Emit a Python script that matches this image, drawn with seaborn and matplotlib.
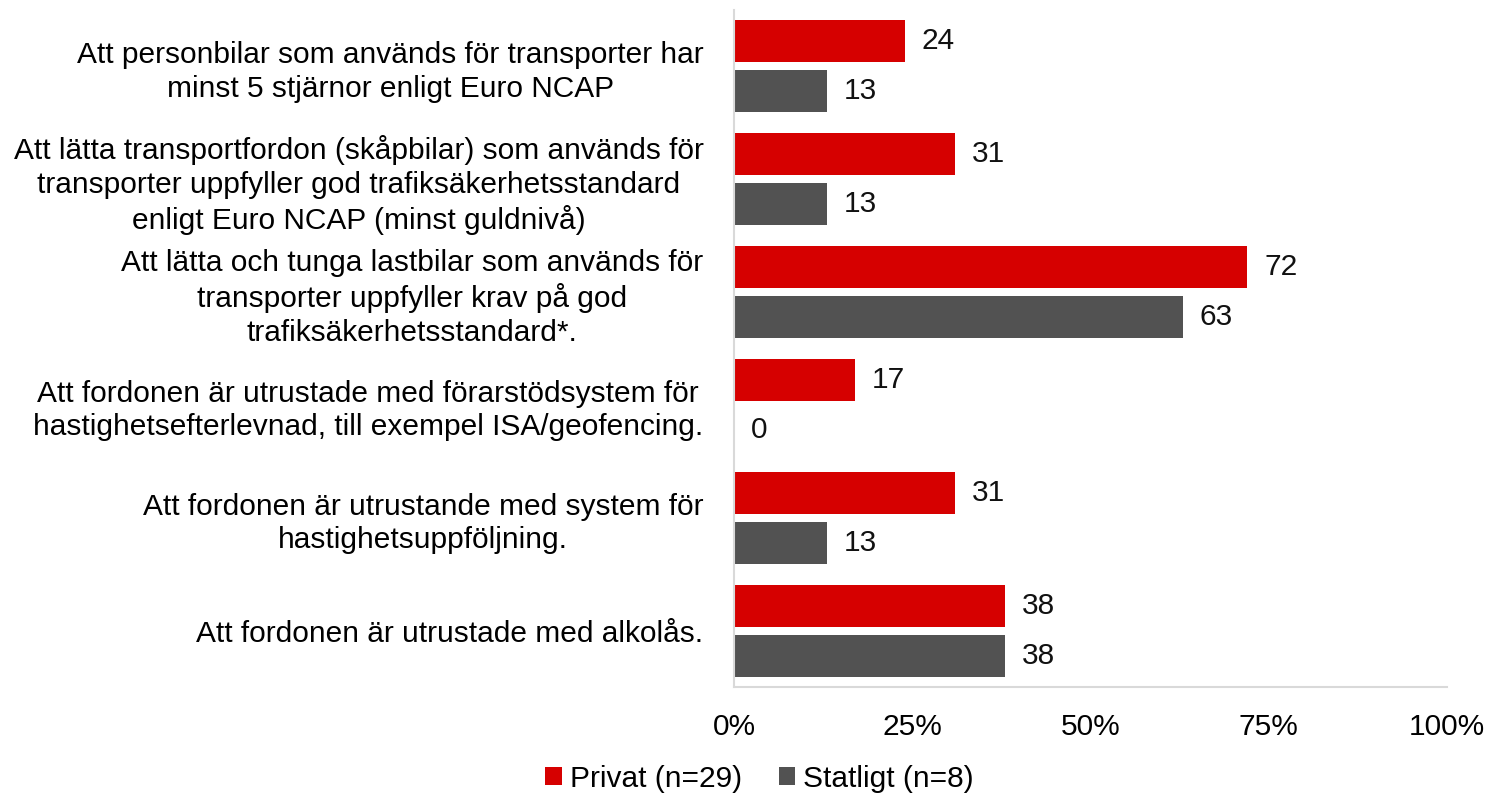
import matplotlib
matplotlib.use('Agg')
import matplotlib.pyplot as plt
import seaborn as sb
import pandas as pd
from matplotlib.patches import Patch

categories = [
    'Att personbilar som används för transporter har\nminst 5 stjärnor enligt Euro NCAP',
    'Att lätta transportfordon (skåpbilar) som används för\ntransporter uppfyller god trafiksäkerhetsstandard\nenligt Euro NCAP (minst guldnivå)',
    'Att lätta och tunga lastbilar som används för\ntransporter uppfyller krav på god\ntrafiksäkerhetsstandard*.',
    'Att fordonen är utrustade med förarstödsystem för\nhastighetsefterlevnad, till exempel ISA/geofencing.',
    'Att fordonen är utrustande med system för\nhastighetsuppföljning.',
    'Att fordonen är utrustade med alkolås.',
]
privat = [24, 31, 72, 17, 31, 38]
statligt = [13, 13, 63, 0, 13, 38]
series = ['Privat (n=29)', 'Statligt (n=8)']
colors = ['#D60000', '#525252']
xticks = [0, 25, 50, 75, 100]

df = pd.DataFrame({
    'cat': categories * 2,
    'value': privat + statligt,
    'group': [series[0]] * len(categories) + [series[1]] * len(categories),
})

plt.rcParams['font.family'] = ['Liberation Sans', 'DejaVu Sans']
fs = 21.5

fig = plt.figure(figsize=(14.87, 7.97), dpi=100)
ax = fig.add_axes([0.4936, 0.138, 0.4795, 0.8495])

sb.barplot(data=df, y='cat', x='value', hue='group', hue_order=series,
           palette=colors, orient='h', width=0.886, gap=0.16,
           saturation=1, legend=False, ax=ax)

# value labels next to each bar
for cont, vals in zip(ax.containers, [privat, statligt]):
    ax.bar_label(cont, labels=[str(v) for v in vals], padding=12,
                 fontsize=fs, color='#111111')

ax.set_xlim(0, 100)
ax.set_ylim(len(categories) - 0.5, -0.5)
ax.set_xticks(xticks)
ax.set_xticklabels([f'{t}%' for t in xticks], fontsize=fs)
ax.tick_params(axis='x', length=0, pad=19)
ax.tick_params(axis='y', length=0, pad=22)
for lbl in ax.get_yticklabels():
    lbl.set_fontsize(fs)
    lbl.set_multialignment('center')
    lbl.set_linespacing(1.25)
ax.set_xlabel('')
ax.set_ylabel('')
for s in ['top', 'right']:
    ax.spines[s].set_visible(False)
for s in ['left', 'bottom']:
    ax.spines[s].set_color('#D9D9D9')
    ax.spines[s].set_linewidth(1.5)

handles = [Patch(facecolor=c, label=l) for c, l in zip(colors, series)]
fig.legend(handles=handles, loc='center', bbox_to_anchor=(0.5108, 0.0226),
           ncol=2, frameon=False, fontsize=fs, handlelength=0.55,
           handleheight=0.55, handletextpad=0.27, columnspacing=1.24)

fig.savefig('out.png', dpi=100)
